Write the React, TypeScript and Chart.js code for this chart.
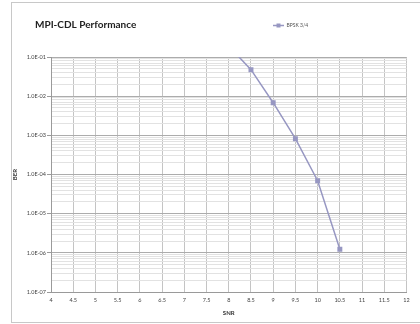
import React, { useEffect, useRef } from "react";
import { Chart, registerables } from "chart.js";

Chart.register(...registerables);

const titleText = "MPI-CDL Performance";
const seriesName = "BPSK 3/4";
const snr = [8, 8.5, 9, 9.5, 10, 10.5];
const ber = [0.19, 0.0474, 0.0068, 0.00082, 6.95e-5, 1.23e-6];
const xMin = 4;
const xMax = 12;
const xStep = 0.5;
const yMinExp = -7;
const yMaxExp = -1;

const lineColor = "#9797c2";
const FONT = "Lato, 'Liberation Sans', sans-serif";

function makeLegendIcon(): HTMLCanvasElement {
  const c = document.createElement("canvas");
  c.width = 11;
  c.height = 5;
  const g = c.getContext("2d")!;
  g.strokeStyle = lineColor;
  g.lineWidth = 1.5;
  g.beginPath();
  g.moveTo(0, 2.5);
  g.lineTo(11, 2.5);
  g.stroke();
  g.fillStyle = lineColor;
  g.fillRect(3.5, 0.5, 4, 4);
  return c;
}

const isPow10 = (v: number) => {
  const l = Math.log10(v);
  return Math.abs(l - Math.round(l)) < 1e-9;
};

export default function App() {
  const ref = useRef<HTMLCanvasElement>(null);
  useEffect(() => {
    const canvas = ref.current!;
    const icon = makeLegendIcon();
    const framePlugin = {
      id: "frame",
      beforeDraw(chart: any) {
        const ctx = chart.ctx;
        ctx.save();
        ctx.strokeStyle = "#c8c8c8";
        ctx.lineWidth = 1;
        ctx.strokeRect(11.5, 2.5, 420, 320);
        ctx.restore();
      },
      afterLayout(chart: any) {
        const t = chart.titleBlock;
        if (t) {
          const w = t.right - t.left;
          t.left = 35;
          t.right = 35 + w;
        }
        const lg = chart.legend;
        if (lg) {
          const h = lg.bottom - lg.top;
          const w = lg.right - lg.left;
          lg.top = 21;
          lg.bottom = 21 + h;
          lg.left = 271;
          lg.right = 271 + w;
        }
      },
    };
    const chart = new Chart(canvas, {
      type: "line",
      data: {
        datasets: [
          {
            label: seriesName,
            data: snr.map((x, i) => ({ x, y: ber[i] })),
            borderColor: lineColor,
            backgroundColor: lineColor,
            borderWidth: 1.5,
            pointStyle: "rect",
            pointRadius: 3.5,
            pointBorderWidth: 0,
            pointBackgroundColor: lineColor,
            tension: 0,
          },
        ],
      },
      options: {
        animation: false,
        responsive: false,
        layout: { padding: { left: 0, right: 13.5, top: 0, bottom: 0 } },
        plugins: {
          title: {
            display: true,
            text: titleText,
            align: "start",
            color: "#222",
            font: { family: FONT, size: 10, weight: "bold" },
            padding: { top: 19, bottom: 9 },
          },
          legend: {
            display: true,
            position: "top",
            align: "start",
            labels: {
              usePointStyle: true,
              pointStyle: icon as any,
              pointStyleWidth: 11,
              padding: 2,
              color: "#555",
              font: { family: FONT, size: 5 },
            },
          },
          tooltip: { enabled: false },
        },
        scales: {
          x: {
            type: "linear",
            min: xMin,
            max: xMax,
            afterFit(scale: any) {
              scale.height = 32;
            },
            ticks: {
              stepSize: xStep,
              autoSkip: false,
              maxRotation: 0,
              padding: 5,
              color: "#444",
              font: { family: FONT, size: 5.5 },
              callback(value: any) {
                return String(Number(value));
              },
            },
            grid: { color: "#c4c4c4", drawTicks: false, lineWidth: 1 },
            border: { color: "#9a9a9a" },
            title: {
              display: true,
              text: "SNR",
              color: "#333",
              font: { family: FONT, size: 6, weight: "bold" },
              padding: { top: 0, bottom: 7.4 },
            },
          },
          y: {
            type: "logarithmic",
            min: Math.pow(10, yMinExp),
            max: Math.pow(10, yMaxExp),
            afterFit(scale: any) {
              scale.width = 51;
            },
            afterBuildTicks(scale: any) {
              const ticks: any[] = [];
              for (let e = yMinExp; e <= yMaxExp; e++) {
                for (let m = 1; m <= 9; m++) {
                  if (e === yMaxExp && m > 1) break;
                  ticks.push({ value: m * Math.pow(10, e), major: m === 1 });
                }
              }
              scale.ticks = ticks;
            },
            ticks: {
              autoSkip: false,
              padding: 1,
              color: "#444",
              font: { family: FONT, size: 5.5 },
              callback(value: any) {
                const v = Number(value);
                if (!isPow10(v)) return "";
                const e = Math.round(Math.log10(v));
                const s = Math.abs(e).toString().padStart(2, "0");
                return "1.0E" + (e < 0 ? "-" : "+") + s;
              },
            },
            grid: {
              tickLength: 4,
              color: (ctx: any) =>
                ctx.tick && isPow10(ctx.tick.value) ? "#acacac" : "#e2e2e2",
              tickColor: (ctx: any) =>
                ctx.tick && isPow10(ctx.tick.value) ? "#9a9a9a" : "rgba(0,0,0,0)",
              lineWidth: 1,
            },
            border: { color: "#9a9a9a" },
            title: {
              display: true,
              text: "BER",
              color: "#333",
              font: { family: FONT, size: 6, weight: "bold" },
              padding: { top: 11.4, bottom: 0 },
            },
          },
        },
      },
      plugins: [framePlugin],
    } as any);
    return () => chart.destroy();
  }, []);
  return (
    <div style={{ position: "absolute", left: 0, top: 0, width: 420, height: 324, background: "#fff" }}>
      <canvas ref={ref} width={420} height={324} style={{ width: 420, height: 324, display: "block" }} />
    </div>
  );
}
